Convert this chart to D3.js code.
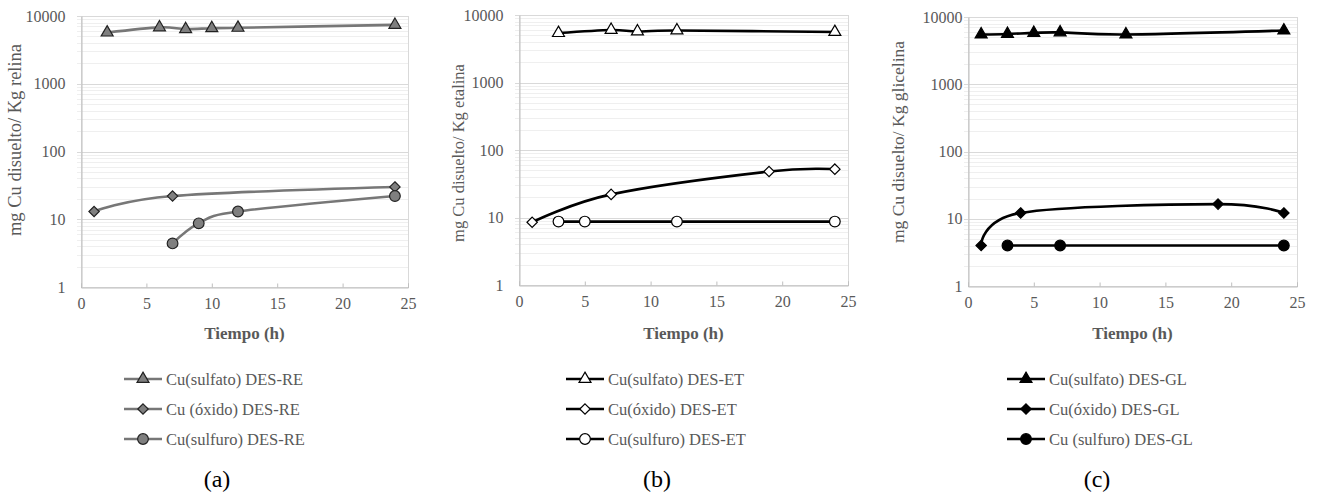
<!DOCTYPE html>
<html>
<head>
<meta charset="utf-8">
<script src="https://cdn.jsdelivr.net/npm/d3@7"></script>
</head>
<body style="margin:0">
<svg id="chart" width="1317" height="495"></svg>
<script>
// ---- Data: dissolved Cu (mg Cu / kg DES) versus time (h) ----
const xTicks = [0, 5, 10, 15, 20, 25];
const yTicks = [1, 10, 100, 1000, 10000];

// (a) DES-RE (relina)
const hoursSulfatoRE = [2, 6, 8, 10, 12, 24];
const sulfatoRE      = [5700, 6800, 6400, 6600, 6700, 7400];
const hoursOxidoRE   = [1, 7, 24];
const oxidoRE        = [13, 22, 30];
const hoursSulfuroRE = [7, 9, 12, 24];
const sulfuroRE      = [4.4, 8.7, 13, 22];

// (b) DES-ET (etalina)
const hoursSulfatoET = [3, 7, 9, 12, 24];
const sulfatoET      = [5400, 6000, 5700, 5900, 5600];
const hoursOxidoET   = [1, 7, 19, 24];
const oxidoET        = [8.5, 22, 48, 52];
const hoursSulfuroET = [3, 5, 12, 24];
const sulfuroET      = [8.7, 8.7, 8.7, 8.7];

// (c) DES-GL (glicelina)
const hoursSulfatoGL = [1, 3, 5, 7, 12, 24];
const sulfatoGL      = [5500, 5600, 5800, 5900, 5500, 6300];
const hoursOxidoGL   = [1, 4, 19, 24];
const oxidoGL        = [4, 12.2, 16.5, 12.2];
const hoursSulfuroGL = [3, 7, 24];
const sulfuroGL      = [4, 4, 4];

const yTitles = ["mg Cu disuelto/ Kg relina", "mg Cu disuelto/ Kg etalina", "mg Cu disuelto/ Kg glicelina"];
const xTitle = "Tiempo (h)";
const panelLabels = ["(a)", "(b)", "(c)"];
const legendNames = [
  ["Cu(sulfato) DES-RE", "Cu (óxido) DES-RE", "Cu(sulfuro) DES-RE"],
  ["Cu(sulfato) DES-ET", "Cu(óxido) DES-ET", "Cu(sulfuro) DES-ET"],
  ["Cu(sulfato) DES-GL", "Cu(óxido) DES-GL", "Cu (sulfuro) DES-GL"]
];

const seriesByPanel = [
  [{x: hoursSulfatoRE, y: sulfatoRE, shape: "triangle"},
   {x: hoursOxidoRE,   y: oxidoRE,   shape: "diamond"},
   {x: hoursSulfuroRE, y: sulfuroRE, shape: "circle"}],
  [{x: hoursSulfatoET, y: sulfatoET, shape: "triangle"},
   {x: hoursOxidoET,   y: oxidoET,   shape: "diamond"},
   {x: hoursSulfuroET, y: sulfuroET, shape: "circle"}],
  [{x: hoursSulfatoGL, y: sulfatoGL, shape: "triangle"},
   {x: hoursOxidoGL,   y: oxidoGL,   shape: "diamond"},
   {x: hoursSulfuroGL, y: sulfuroGL, shape: "circle"}]
];

// ---- Layout and style for each panel ----
const panels = [
  {left: 81,  right: 408,  top: 16, bottom: 287, labelGap: 16, titleX: 15,  titleY: 140, titleSize: 18.5,
   line: "#777777", fill: "#7f7f7f", stroke: "#222", legendX: 124, cx: 217},
  {left: 519, right: 848,  top: 15, bottom: 285, labelGap: 16, titleX: 458, titleY: 153, titleSize: 16.5,
   line: "#000", fill: "#fff", stroke: "#000", legendX: 566, cx: 657},
  {left: 968, right: 1297, top: 17, bottom: 286, labelGap: 6,  titleX: 898, titleY: 142, titleSize: 17.5,
   line: "#000", fill: "#000", stroke: "#000", legendX: 1007, cx: 1097}
];

const FONT = '"Liberation Serif", serif';
const textColor = "#595959";
const svg = d3.select("#chart");

function markerPath(shape) {
  if (shape === "triangle") return d3.symbol(d3.symbolTriangle, 62)();
  if (shape === "diamond")  return "M0,-5.2L5.2,0L0,5.2L-5.2,0Z";
  return d3.symbol(d3.symbolCircle, 90)();
}

function label(g, x, y, str, size, color) {
  return g.append("text").attr("x", x).attr("y", y)
    .style("font-family", FONT).style("font-size", size + "px")
    .attr("fill", color).text(str);
}

panels.forEach((p, i) => {
  const g = svg.append("g");
  const x = d3.scaleLinear().domain([0, 25]).range([p.left, p.right]);
  const y = d3.scaleLog().domain([1, 10000]).range([p.bottom, p.top]);

  // minor gridlines (2..9 of each decade)
  const minor = [];
  for (let d = 1; d < 10000; d *= 10) for (let k = 2; k <= 9; k++) minor.push(d * k);
  g.append("g").selectAll("line").data(minor).join("line")
    .attr("x1", p.left - 4).attr("x2", p.right)
    .attr("y1", d => Math.round(y(d)) + 0.5).attr("y2", d => Math.round(y(d)) + 0.5)
    .attr("stroke", "#efefef").attr("stroke-width", 1);
  // major gridlines
  g.append("g").selectAll("line").data(yTicks.slice(1)).join("line")
    .attr("x1", p.left - 4).attr("x2", p.right)
    .attr("y1", d => Math.round(y(d)) + 0.5).attr("y2", d => Math.round(y(d)) + 0.5)
    .attr("stroke", "#d9d9d9").attr("stroke-width", 1);

  // plot frame
  g.append("rect")
    .attr("x", p.left + 0.5).attr("y", p.top + 0.5)
    .attr("width", p.right - p.left).attr("height", p.bottom - p.top)
    .attr("fill", "none").attr("stroke", "#d9d9d9");

  // x axis
  const xAxis = d3.axisBottom(x).tickValues(xTicks).tickSize(-4).tickPadding(18);
  const xa = g.append("g").attr("transform", `translate(0,${p.bottom + 0.5})`).call(xAxis);
  xa.attr("font-family", null).attr("font-size", null);
  xa.select(".domain").attr("stroke", "#bfbfbf");
  xa.selectAll(".tick line").attr("stroke", "#bfbfbf");
  xa.selectAll(".tick text").attr("fill", textColor).attr("dy", "0.2em")
    .style("font-family", FONT).style("font-size", "16px");

  // y axis
  const yAxis = d3.axisLeft(y).tickValues(yTicks).tickFormat(d3.format("d")).tickSize(0).tickPadding(p.labelGap);
  const ya = g.append("g").attr("transform", `translate(${p.left + 0.5},0)`).call(yAxis);
  ya.attr("font-family", null).attr("font-size", null);
  ya.select(".domain").attr("stroke", "#bfbfbf");
  ya.selectAll(".tick text").attr("fill", textColor)
    .style("font-family", FONT).style("font-size", "16px");

  // axis titles
  label(g, (p.left + p.right) / 2, 339, xTitle, 17, textColor)
    .attr("text-anchor", "middle").style("font-weight", "bold");
  label(g, 0, 0, yTitles[i], p.titleSize, textColor)
    .attr("transform", `translate(${p.titleX},${p.titleY}) rotate(-90)`)
    .attr("text-anchor", "middle").attr("dy", "0.35em");

  // series: smoothed lines with markers
  const line = d3.line().x(d => x(d[0])).y(d => y(d[1])).curve(d3.curveCatmullRom.alpha(0));
  seriesByPanel[i].forEach(s => {
    const pts = s.x.map((h, k) => [h, s.y[k]]);
    g.append("path").datum(pts).attr("d", line)
      .attr("fill", "none").attr("stroke", p.line).attr("stroke-width", 2.6)
      .attr("stroke-linejoin", "round");
    g.append("g").selectAll("path").data(pts).join("path")
      .attr("transform", d => `translate(${x(d[0])},${y(d[1])})`)
      .attr("d", markerPath(s.shape))
      .attr("fill", p.fill).attr("stroke", p.stroke).attr("stroke-width", 1.2);
  });

  // legend
  seriesByPanel[i].forEach((s, k) => {
    const ly = 379 + k * 30;
    g.append("line").attr("x1", p.legendX).attr("x2", p.legendX + 38)
      .attr("y1", ly).attr("y2", ly).attr("stroke", p.line).attr("stroke-width", 2.6);
    g.append("path").attr("transform", `translate(${p.legendX + 19},${ly})`)
      .attr("d", markerPath(s.shape))
      .attr("fill", p.fill).attr("stroke", p.stroke).attr("stroke-width", 1.2);
    label(g, p.legendX + 42, ly, legendNames[i][k], 16.5, textColor).attr("dy", "0.35em");
  });

  // panel label
  label(g, p.cx, 487, panelLabels[i], 24, "#000").attr("text-anchor", "middle");
});
</script>
</body>
</html>
